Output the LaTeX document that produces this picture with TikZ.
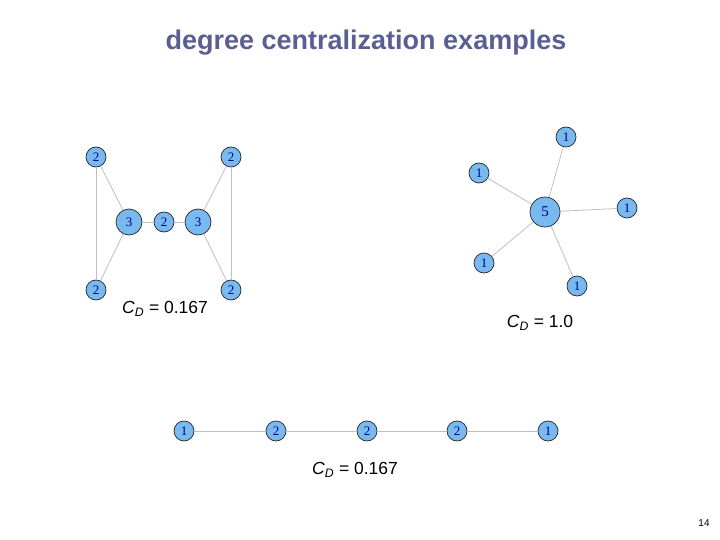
\documentclass[tikz,border=0pt]{standalone}
\usepackage{fontspec}
\setmainfont{Liberation Serif}
\newfontfamily\arialf{Liberation Sans}
\begin{document}
\begin{tikzpicture}[x=1pt,y=-1pt,
 v/.style={circle,draw=black!85,line width=0.7pt,fill={rgb,255:red,120;green,185;blue,240},inner sep=0pt,minimum size=20pt,text=blue!50!black,font=\fontsize{13}{13}\selectfont},
 vb/.style={v,minimum size=26pt},
 vc/.style={v,minimum size=30pt,font=\fontsize{15}{15}\selectfont},
 e/.style={draw=black!25,line width=0.8pt},
 lab/.style={font=\arialf\fontsize{17.5}{17.5}\selectfont}]
\useasboundingbox (0,0) rectangle (720,540);
\node[font=\arialf\bfseries\fontsize{27}{27}\selectfont,text={rgb,255:red,90;green,95;blue,145}] (t) at (366,43) {degree centralization examples};
\node (a1) [v] at (96,157) {2};
\node (a2) [v] at (231,157) {2};
\node (a3) [vb] at (129,222) {3};
\node (a4) [v] at (164,222) {2};
\node (a5) [vb] at (198,222) {3};
\node (a6) [v] at (96,290) {2};
\node (a7) [v] at (231,290) {2};
\draw[e] (a1)--(a6); \draw[e] (a1)--(a3); \draw[e] (a6)--(a3); \draw[e] (a3)--(a4);
\draw[e] (a4)--(a5); \draw[e] (a5)--(a2); \draw[e] (a5)--(a7); \draw[e] (a2)--(a7);
\node (s0) [vc] at (545,212) {5};
\node (s1) [v] at (566,137) {1};
\node (s2) [v] at (479,173) {1};
\node (s3) [v] at (627,208) {1};
\node (s4) [v] at (484,263) {1};
\node (s5) [v] at (577,286) {1};
\foreach \i in {1,...,5} \draw[e] (s0)--(s\i);
\node (l1) [v] at (184,431) {1};
\node (l2) [v] at (276,431) {2};
\node (l3) [v] at (367,431) {2};
\node (l4) [v] at (457,431) {2};
\node (l5) [v] at (548,431) {1};
\draw[e] (l1)--(l2); \draw[e] (l2)--(l3); \draw[e] (l3)--(l4); \draw[e] (l4)--(l5);
\node[lab] (c1) at (165,309) {\textit{C}\textsubscript{\textit{D}} = 0.167};
\node[lab] (c2) at (540,323) {\textit{C}\textsubscript{\textit{D}} = 1.0};
\node[lab] (c3) at (355,470) {\textit{C}\textsubscript{\textit{D}} = 0.167};
\node[font=\arialf\fontsize{10}{10}\selectfont] (pg) at (704,523) {14};
\end{tikzpicture}
\end{document}
